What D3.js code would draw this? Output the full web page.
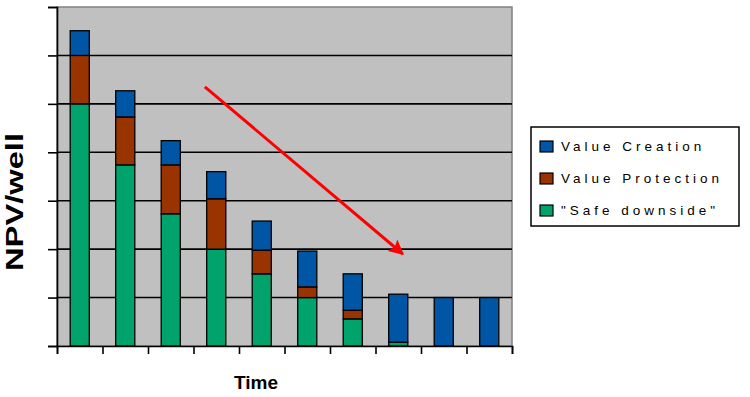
<!DOCTYPE html>
<html>
<head>
<meta charset="utf-8">
<script src="https://cdn.jsdelivr.net/npm/d3@7"></script>
<style>
  body { margin: 0; background: #fff; }
  svg { display: block; font-family: "Liberation Sans", Arial, sans-serif; }
</style>
</head>
<body>
<script>
// NPV per well over time, stacked by value component
const periods = ["T1", "T2", "T3", "T4", "T5", "T6", "T7", "T8", "T9", "T10"];
const safeDownside = [5, 3.74, 2.73, 2, 1.49, 1, 0.56, 0.08, 0, 0];
const valueProtection = [1, 0.99, 1.01, 1.04, 0.49, 0.22, 0.18, 0, 0, 0];
const valueCreation = [0.51, 0.54, 0.5, 0.56, 0.6, 0.74, 0.75, 0.99, 1, 1];
const seriesNames = ["Value Creation", "Value Protection", "\"Safe downside\""];
const yTicks = [0, 1, 2, 3, 4, 5, 6, 7];
// trend arrow, in (period index, NPV) units
const arrowFrom = [3.25, 5.35];
const arrowTo = [7.6, 1.9];

const width = 750, height = 397;
const margin = { top: 7, right: 238, bottom: 51, left: 57 };
const colors = { safe: "#00a36b", protection: "#993300", creation: "#0055a4" };

const rows = periods.map((p, i) => ({
    period: p,
    safe: safeDownside[i],
    protection: valueProtection[i],
    creation: valueCreation[i]
}));

const svg = d3.select("body").append("svg")
    .attr("width", width)
    .attr("height", height);

const x = d3.scaleBand()
    .domain(periods)
    .range([margin.left, width - margin.right])
    .paddingInner(0.58)
    .paddingOuter(0.29);

// continuous scale over the same range, for band-edge ticks and annotation
const xLin = d3.scaleLinear()
    .domain([0, periods.length])
    .range([margin.left, width - margin.right]);

const y = d3.scaleLinear()
    .domain([0, 7])
    .range([height - margin.bottom, margin.top]);

// plot background
svg.append("rect")
    .attr("x", margin.left)
    .attr("y", margin.top)
    .attr("width", width - margin.left - margin.right)
    .attr("height", height - margin.top - margin.bottom)
    .attr("fill", "#c0c0c0")
    .attr("stroke", "#808080")
    .attr("stroke-width", 1.5);

// gridlines
svg.append("g")
    .selectAll("line")
    .data(yTicks.filter(d => d > 0 && d < 7))
    .join("line")
    .attr("x1", margin.left)
    .attr("x2", width - margin.right)
    .attr("y1", d => y(d))
    .attr("y2", d => y(d))
    .attr("stroke", "#000")
    .attr("stroke-width", 1.6);

// stacked bars
const stack = d3.stack().keys(["safe", "protection", "creation"]);
const layers = stack(rows);

svg.append("g")
    .selectAll("g")
    .data(layers)
    .join("g")
    .attr("fill", d => colors[d.key])
    .selectAll("rect")
    .data(d => d.filter(s => s[1] - s[0] > 0))
    .join("rect")
    .attr("x", d => x(d.data.period))
    .attr("width", x.bandwidth())
    .attr("y", d => y(d[1]))
    .attr("height", d => y(d[0]) - y(d[1]))
    .attr("stroke", "#000")
    .attr("stroke-width", 1.3);

// axes
svg.append("g")
    .attr("transform", `translate(${margin.left},0)`)
    .call(d3.axisLeft(y).tickValues(yTicks).tickSize(9).tickFormat(""))
    .call(g => g.selectAll("line, path").attr("stroke", "#000").attr("stroke-width", 1.6));

svg.append("g")
    .attr("transform", `translate(0,${height - margin.bottom})`)
    .call(d3.axisBottom(xLin).ticks(periods.length).tickSize(8).tickFormat(""))
    .call(g => g.selectAll("line, path").attr("stroke", "#000").attr("stroke-width", 1.6));

// axis titles
svg.append("text")
    .attr("transform", `translate(23,202) rotate(-90)`)
    .attr("text-anchor", "middle")
    .attr("font-size", 24)
    .attr("font-weight", "bold")
    .attr("textLength", 138)
    .attr("lengthAdjust", "spacingAndGlyphs")
    .text("NPV/well");

svg.append("text")
    .attr("x", 256)
    .attr("y", 389)
    .attr("text-anchor", "middle")
    .attr("font-size", 19)
    .attr("font-weight", "bold")
    .text("Time");

// trend arrow
svg.append("defs").append("marker")
    .attr("id", "head")
    .attr("viewBox", "0 0 10 10")
    .attr("refX", 9)
    .attr("refY", 5)
    .attr("markerWidth", 6)
    .attr("markerHeight", 5)
    .attr("markerUnits", "strokeWidth")
    .attr("orient", "auto")
    .append("path")
    .attr("d", "M0,0 L10,5 L0,10 L2,5 Z")
    .attr("fill", "#ff0000");

svg.append("line")
    .attr("x1", xLin(arrowFrom[0]))
    .attr("y1", y(arrowFrom[1]))
    .attr("x2", xLin(arrowTo[0]))
    .attr("y2", y(arrowTo[1]))
    .attr("stroke", "#ff0000")
    .attr("stroke-width", 3)
    .attr("marker-end", "url(#head)");

// legend
const legend = svg.append("g").attr("transform", "translate(531,127)");
legend.append("rect")
    .attr("width", 208)
    .attr("height", 99)
    .attr("fill", "#fff")
    .attr("stroke", "#000")
    .attr("stroke-width", 1.5);

const legendKeys = ["creation", "protection", "safe"];
const item = legend.selectAll("g")
    .data(seriesNames)
    .join("g")
    .attr("transform", (d, i) => `translate(9,${14 + i * 32})`);

item.append("rect")
    .attr("width", 13)
    .attr("height", 11)
    .attr("fill", (d, i) => colors[legendKeys[i]])
    .attr("stroke", "#000")
    .attr("stroke-width", 1.2);

item.append("text")
    .attr("x", 21)
    .attr("y", 10)
    .attr("font-size", 13.5)
    .attr("letter-spacing", 4)
    .text(d => d);
</script>
</body>
</html>
